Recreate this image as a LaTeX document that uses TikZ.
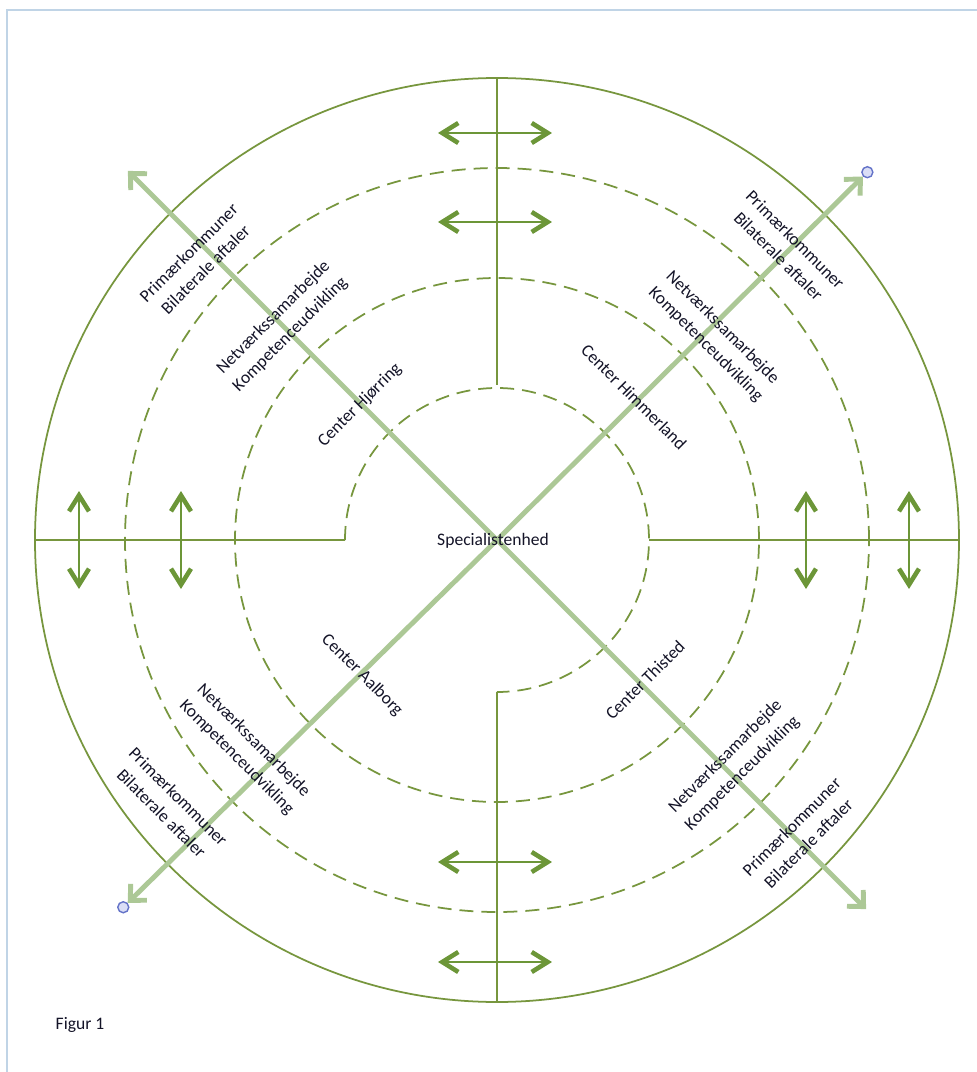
\documentclass[tikz,border=0pt]{standalone}
\usepackage{fontspec}
\setmainfont{Carlito}
\usepackage{tikz}
\usetikzlibrary{arrows.meta,calc}
\definecolor{ringgreen}{RGB}{119,150,62}
\definecolor{arrowgreen}{RGB}{108,150,56}
\definecolor{spokegreen}{RGB}{172,200,150}
\definecolor{pointblue}{RGB}{100,115,200}
\definecolor{pointfill}{RGB}{218,222,246}
\definecolor{framecol}{RGB}{192,212,230}
\definecolor{textdark}{RGB}{20,20,40}
\tikzset{
  ring/.style={draw=ringgreen, line width=1pt},
  ringd/.style={ring, dash pattern=on 0.28cm off 0.16cm},
  spoke/.style={draw=spokegreen, line width=2.8pt, line cap=butt},
  spoketip/.style={-{Straight Barb[length=0.24cm,width=0.46cm]}},
  dbl/.style={draw=arrowgreen, line width=1.4pt,
    {Straight Barb[length=0.32cm,width=0.40cm,line width=2.6pt]}-{Straight Barb[length=0.32cm,width=0.40cm,line width=2.6pt]}},
  endpt/.style={circle, draw=pointblue, fill=pointfill, line width=0.8pt, inner sep=0pt, minimum size=0.22cm},
  lbl/.style={font=\fontsize{10}{13.5}\selectfont, text=textdark, align=center, inner sep=1pt},
  frame/.style={draw=framecol, line width=0.8pt},
}
\begin{document}
\begin{tikzpicture}[x=0.02cm,y=0.02cm]
  \useasboundingbox (-497,540) rectangle (480,-532);
  \draw[frame] (-490,-532) -- (-490,530) -- (480,530);
  \coordinate (c) at (0,0);
  % rings
  \draw[ring] (c) circle (462);
  \draw[ringd] (c) circle (372);
  \draw[ringd] (c) circle (262);
  \coordinate (iw) at (180:152);
  \coordinate (is) at (-90:152);
  \draw[ringd] (iw) arc[start angle=180, end angle=-90, radius=152];
  % dividers
  \coordinate (ow) at (180:462);
  \coordinate (oe) at (0:462);
  \coordinate (on) at (90:462);
  \coordinate (os) at (-90:462);
  \coordinate (ie) at (0:152);
  \coordinate (in) at (90:155);
  \draw[ring] (ow) -- (iw);
  \draw[ring] (ie) -- (oe);
  \draw[ring] (on) -- (in);
  \draw[ring] (is) -- (os);
  % spokes
  \coordinate (nw) at (135:522);
  \coordinate (se) at (-45:522);
  \node[endpt] (ne) at (44.8:522) {};
  \node[endpt] (sw) at (224.5:524) {};
  \draw[spoke,spoketip] (c) -- (nw);
  \draw[spoke,spoketip] (c) -- (se);
  \draw[spoke,spoketip] (c) -- (ne);
  \draw[spoke,spoketip] (c) -- (sw);
  % double arrows
  \foreach \y/\n in {407/a,318/b,-322/c,-422/d} {
    \coordinate (h\n1) at (-59,\y);
    \coordinate (h\n2) at (55,\y);
    \draw[dbl] (h\n1) -- (h\n2);
  }
  \foreach \x/\n in {-418/a,-316/b,309/c,412/d} {
    \coordinate (v\n1) at (\x,49);
    \coordinate (v\n2) at (\x,-49);
    \draw[dbl] (v\n1) -- (v\n2);
  }
  % labels
  \node[lbl] (spec) at (-4,-1) {Specialistenhed};
  \node[lbl,rotate=45] (primnw) at (-300,279) {Primærkommuner\\Bilaterale aftaler};
  \node[lbl,rotate=45] (netnw) at (-215,214) {Netværkssamarbejde\\Kompetenceudvikling};
  \node[lbl,rotate=45] (hjorring) at (-137,135) {Center Hjørring};
  \node[lbl,rotate=-45] (primne) at (290,292) {Primærkommuner\\Bilaterale aftaler};
  \node[lbl,rotate=-45] (netne) at (217,204) {Netværkssamarbejde\\Kompetenceudvikling};
  \node[lbl,rotate=-45] (himmerland) at (137,143) {Center Himmerland};
  \node[lbl,rotate=-45] (aalborg) at (-135,-135) {Center Aalborg};
  \node[lbl,rotate=-45] (netsw) at (-252,-209) {Netværkssamarbejde\\Kompetenceudvikling};
  \node[lbl,rotate=-45] (primsw) at (-327,-265) {Primærkommuner\\Bilaterale aftaler};
  \node[lbl,rotate=45] (thisted) at (148,-140) {Center Thisted};
  \node[lbl,rotate=45] (netse) at (237,-225) {Netværkssamarbejde\\Kompetenceudvikling};
  \node[lbl,rotate=45] (primse) at (303,-295) {Primærkommuner\\Bilaterale aftaler};
  \node[lbl] (figur) at (-417,-485) {Figur 1};
\end{tikzpicture}
\end{document}
